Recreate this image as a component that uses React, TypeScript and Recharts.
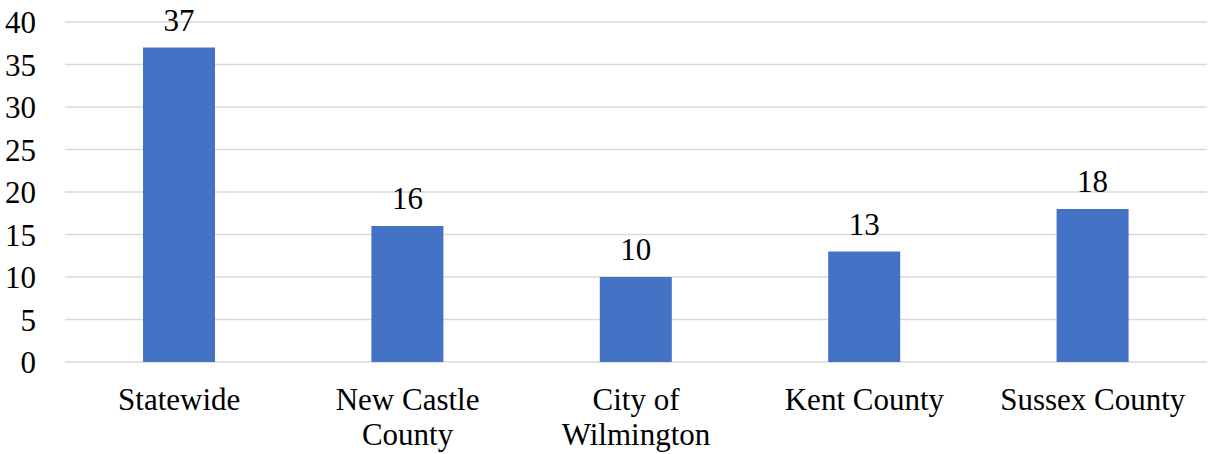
import { BarChart, Bar, XAxis, YAxis, CartesianGrid, LabelList } from 'recharts';

const categories = ['Statewide', 'New Castle County', 'City of Wilmington', 'Kent County', 'Sussex County'];
const values = [37, 16, 10, 13, 18];
const yTicks = [0, 5, 10, 15, 20, 25, 30, 35, 40];
// how each category label breaks onto lines
const labelLines: Record<string, string[]> = {
  Statewide: ['Statewide'],
  'New Castle County': ['New Castle', 'County'],
  'City of Wilmington': ['City of', 'Wilmington'],
  'Kent County': ['Kent County'],
  'Sussex County': ['Sussex County'],
};

const data = categories.map((name, i) => ({ name, value: values[i] }));

const FONT = "'Times New Roman', 'Liberation Serif', serif";

function CategoryTick(props: any) {
  const { x, y, payload } = props;
  const lines = labelLines[payload.value] || [payload.value];
  return (
    <text x={x} y={y} textAnchor="middle" fontFamily={FONT} fontSize={31} fill="#000">
      {lines.map((l, i) => (
        <tspan key={i} x={x} dy={i === 0 ? 48 : 35}>
          {l}
        </tspan>
      ))}
    </text>
  );
}

export default function App() {
  return (
    <div style={{ width: 1214, height: 454, background: '#fff' }}>
      <style>{'body{margin:0}'}</style>
      <BarChart
        width={1214}
        height={454}
        data={data}
        margin={{ top: 22, right: 7, bottom: 0, left: 0 }}
      >
        <CartesianGrid vertical={false} stroke="#d9d9d9" strokeWidth={1.5} />
        <XAxis
          dataKey="name"
          axisLine={false}
          tickLine={false}
          tickSize={0}
          tickMargin={0}
          height={92}
          interval={0}
          tick={<CategoryTick />}
        />
        <YAxis
          domain={[0, 40]}
          ticks={yTicks}
          axisLine={false}
          tickLine={false}
          tickSize={0}
          tickMargin={29}
          width={65}
          tick={{ fontFamily: FONT, fontSize: 31, fill: '#000' }}
        />
        <Bar dataKey="value" fill="#4472c4" barSize={72} isAnimationActive={false}>
          <LabelList
            dataKey="value"
            position="top"
            offset={17}
            fontFamily={FONT}
            fontSize={31}
            fill="#000"
          />
        </Bar>
      </BarChart>
    </div>
  );
}
